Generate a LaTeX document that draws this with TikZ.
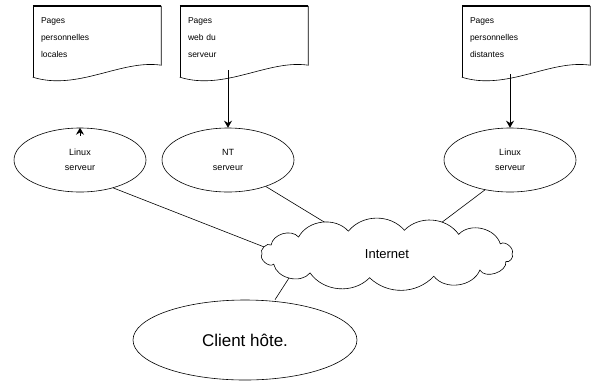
\documentclass[tikz,border=0pt]{standalone}
\usepackage{fontspec}
\setmainfont{Liberation Sans}
\usetikzlibrary{shapes.geometric,arrows.meta}

\tikzset{
  docbox/.style={rectangle, minimum width=128pt, minimum height=64pt, inner sep=0pt,
    align=left, font=\fontsize{8.5}{17}\selectfont, text width=112pt},
  docedge/.style={line width=0.6pt},
  doctop/.style={line width=1.4pt},
  hostnode/.style={ellipse, draw, line width=0.6pt, minimum width=132pt, minimum height=64pt,
    inner sep=0pt, align=center, font=\fontsize{9}{15}\selectfont},
  puff/.style={line width=0.6pt, fill=white},
  cloudtext/.style={font=\fontsize{13}{15}\selectfont, inner sep=0pt},
  userhost/.style={ellipse, draw, line width=0.6pt, minimum width=224pt, minimum height=80pt,
    inner sep=0pt, font=\fontsize{17}{19}\selectfont},
  link/.style={line width=0.6pt},
  feed/.style={line width=1pt, -{Stealth[length=7pt,width=8pt]}}
}

% document outline round a docbox node: left, top, right edges and a wavy foot
\newcommand{\docoutline}[1]{%
  \draw[docedge] (#1.north west) -- ([yshift=-7pt]#1.south west);
  \draw[doctop] (#1.north west) -- (#1.north east);
  \draw[docedge] (#1.north east) -- ([yshift=5pt]#1.south east)
    .. controls +(-40pt,6pt) and +(45pt,-14pt) .. ([yshift=-7pt]#1.south west);
}

\begin{document}
\begin{tikzpicture}[x=1pt,y=-1pt]
  \useasboundingbox (0,0) rectangle (591,381);

  % documents
  \node[docbox] (d1) at (97,38) {Pages\\personnelles\\locales};
  \node[docbox] (d2) at (244,38) {Pages\\web du\\serveur};
  \node[docbox] (d3) at (526,38) {Pages\\personnelles\\distantes};
  \docoutline{d1}
  \docoutline{d2}
  \docoutline{d3}

  % servers
  \node[hostnode] (e1) at (80,160) {Linux\\serveur};
  \node[hostnode] (e2) at (228,160) {NT\\serveur};
  \node[hostnode] (e3) at (510,160) {Linux\\serveur};

  % network: centre and points round its core ellipse
  \coordinate (net) at (387,254);
  \foreach \a/\n in {0/p0,25/p1,55/p2,82/p3,108/p4,135/p5,158/p6,180/p7,
                     205/p8,232/p9,262/p10,292/p11,318/p12,342/p13,
                     165/in1,112/in2,70/in3,222/out1}
    \coordinate (\n) at ([shift={(\a:125pt and 24pt)}]net);

  \node[userhost] (pc) at (245,340) {Client hôte.};

  % links
  \coordinate (s1) at ([yshift=-8pt]e1.north);
  \draw[feed] (s1) -- (e1.north);
  \draw[feed] (d2.south -| e2.north) -- (e2.north);
  \draw[feed] ([yshift=-4pt]d3.south -| e3.north) -- (e3.north);
  \draw[link] (e1.-40) -- (in1);
  \draw[link] (e2.-35) -- (in2);
  \draw[link] (e3.-130) -- (in3);
  \draw[link] (out1) -- ([xshift=30pt]pc.north);

  % cloud outline of puffs, filled to hide the link ends
  \draw[puff] (p0) to[bend right=80] (p1) to[bend right=60] (p2)
    to[bend right=50] (p3) to[bend right=50] (p4) to[bend right=55] (p5)
    to[bend right=65] (p6) to[bend right=85] (p7) to[bend right=85] (p8)
    to[bend right=65] (p9) to[bend right=50] (p10) to[bend right=45] (p11)
    to[bend right=60] (p12) to[bend right=80] (p13) to[bend right=85] (p0) -- cycle;
  \node[cloudtext] (nettext) at (net) {Internet};
\end{tikzpicture}
\end{document}
